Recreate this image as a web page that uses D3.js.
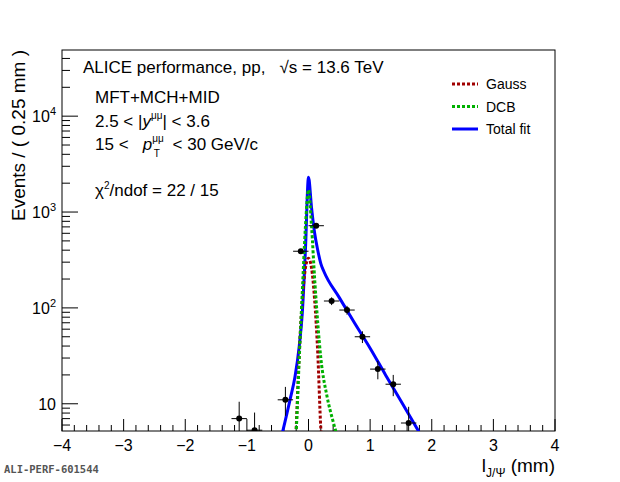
<!DOCTYPE html>
<html>
<head>
<meta charset="UTF-8">
<script src="https://d3js.org/d3.v7.min.js"></script>
<style>
body { margin: 0; background: #fff; font-family: "Liberation Sans", Arial, sans-serif; }
text { white-space: pre; }
</style>
</head>
<body>
<div id="chart"></div>
<script>
// data points (bin centre, counts), bin width 0.25 mm
const binX = [-1.125, -0.875, -0.375, -0.125, 0.125, 0.375, 0.625, 0.875, 1.125, 1.375, 1.625];
const binY = [7, 5.3, 11, 390, 720, 118, 95, 50, 23, 16, 6.3];
const errLo = [3, 2.5, 3.5, 20, 27, 11, 10, 7, 5, 4, 2.5];
const errHi = [3.5, 2.8, 4, 20, 27, 11, 10, 7, 5, 4, 3];

// fit curves
const gaussX = [-0.22, -0.2, -0.15, -0.1, -0.05, 0, 0.05, 0.1, 0.15, 0.2, 0.23];
const gaussY = [3, 5.5, 34, 120, 260, 330, 260, 120, 34, 5.5, 3];
const dcbX = [-0.22, -0.2, -0.15, -0.1, -0.05, 0, 0.05, 0.1, 0.15, 0.2, 0.3, 0.4, 0.47];
const dcbY = [3, 5, 30, 150, 700, 1700, 700, 200, 70, 30, 12, 6.5, 4.5];
const totX = [-0.44, -0.3, -0.22, -0.15, -0.1, -0.05, 0, 0.05, 0.1, 0.15, 0.2, 0.25, 0.5, 0.75, 1.0, 1.25, 1.5, 1.8];
const totY = [4.5, 11, 19, 40, 90, 400, 2300, 1100, 600, 400, 290, 240, 128, 69, 38, 20, 10.7, 5.0];

const W = 620, H = 482;
const m = {left: 62, right: 65, top: 50, bottom: 51};
const svg = d3.select("#chart").append("svg").attr("width", W).attr("height", H);

const x = d3.scaleLinear().domain([-4, 4]).range([m.left, W - m.right]);
const y = d3.scaleLog().domain([5.2, 49000]).range([H - m.bottom, m.top]);

svg.append("defs").append("clipPath").attr("id", "clip")
  .append("rect").attr("x", m.left).attr("y", m.top)
  .attr("width", W - m.left - m.right).attr("height", H - m.top - m.bottom);

// frame
svg.append("rect").attr("x", m.left).attr("y", m.top)
  .attr("width", W - m.left - m.right).attr("height", H - m.top - m.bottom)
  .attr("fill", "none").attr("stroke", "#000");

// x ticks
const xb = H - m.bottom;
for (let v = -4; v <= 4.001; v += 0.2) {
  const major = Math.abs(v - Math.round(v)) < 1e-6;
  svg.append("line").attr("x1", x(v)).attr("x2", x(v))
    .attr("y1", xb).attr("y2", xb - (major ? 12 : 6)).attr("stroke", "#000");
}
d3.range(-4, 5).forEach(v => {
  svg.append("text").attr("x", x(v)).attr("y", xb + 20).attr("text-anchor", "middle")
    .attr("font-size", 16).text(v < 0 ? "\u2212" + (-v) : String(v));
});

// y ticks
[0, 1, 2, 3, 4].forEach(p => {
  for (let k = 1; k <= 9; k++) {
    const v = k * Math.pow(10, p);
    if (v < 5.2 || v > 49000) continue;
    svg.append("line").attr("x1", m.left).attr("x2", m.left + (k === 1 ? 16 : 8))
      .attr("y1", y(v)).attr("y2", y(v)).attr("stroke", "#000");
  }
});

svg.append("text").attr("x", m.left - 6).attr("y", y(10) + 6).attr("text-anchor", "end")
  .attr("font-size", 16).text("10");
[2, 3, 4].forEach(p => {
  const t = svg.append("text").attr("x", m.left - 6).attr("y", y(Math.pow(10, p)) + 6)
    .attr("text-anchor", "end").attr("font-size", 16);
  t.append("tspan").text("10");
  t.append("tspan").attr("dy", -7).attr("font-size", 11).text(p);
});

// axis titles
svg.append("text").attr("transform", `translate(25,${m.top}) rotate(-90)`)
  .attr("text-anchor", "end").attr("font-size", 19).text("Events / ( 0.25 mm )");
const xt = svg.append("text").attr("x", W - m.right).attr("y", 472).attr("text-anchor", "end").attr("font-size", 19);
xt.append("tspan").text("l");
xt.append("tspan").attr("dy", 5).attr("font-size", 12).text("J/\u03A8");
xt.append("tspan").attr("dy", -5).text(" (mm)");

svg.append("text").attr("x", 4).attr("y", 473).attr("font-family", "DejaVu Sans Mono")
  .attr("font-weight", "bold").attr("font-size", 10.5).attr("fill", "#555").text("ALI-PERF-601544");

// curves
const g = svg.append("g").attr("clip-path", "url(#clip)");
const line = d3.line().x(d => x(d[0])).y(d => y(d[1])).curve(d3.curveMonotoneX);
g.append("path").datum(totX.map((v, i) => [v, totY[i]])).attr("d", line)
  .attr("fill", "none").attr("stroke", "#0000ff").attr("stroke-width", 3);
g.append("path").datum(gaussX.map((v, i) => [v, gaussY[i]])).attr("d", line)
  .attr("fill", "none").attr("stroke", "#a00000").attr("stroke-width", 3).attr("stroke-dasharray", "3,2");
g.append("path").datum(dcbX.map((v, i) => [v, dcbY[i]])).attr("d", line)
  .attr("fill", "none").attr("stroke", "#00b000").attr("stroke-width", 3).attr("stroke-dasharray", "3,2");

// data points
binX.forEach((bx, i) => {
  const cy = y(binY[i]);
  g.append("line").attr("x1", x(bx - 0.125)).attr("x2", x(bx + 0.125)).attr("y1", cy).attr("y2", cy).attr("stroke", "#000");
  g.append("line").attr("x1", x(bx)).attr("x2", x(bx)).attr("y1", y(binY[i] + errHi[i])).attr("y2", y(Math.max(binY[i] - errLo[i], 1))).attr("stroke", "#000");
  g.append("circle").attr("cx", x(bx)).attr("cy", cy).attr("r", 3).attr("fill", "#000");
});

// legend
const leg = [["Gauss", "#a00000", "3,2"], ["DCB", "#00b000", "3,2"], ["Total fit", "#0000ff", null]];
leg.forEach((d, i) => {
  const ly = 84 + i * 22.5;
  const l = svg.append("line").attr("x1", 452).attr("x2", 478).attr("y1", ly).attr("y2", ly)
    .attr("stroke", d[1]).attr("stroke-width", 3);
  if (d[2]) l.attr("stroke-dasharray", d[2]);
  svg.append("text").attr("x", 486).attr("y", ly + 5).attr("font-size", 14).text(d[0]);
});

// annotation text
svg.append("text").attr("x", 83).attr("y", 73).attr("font-size", 17)
  .text("ALICE performance, pp,   \u221As = 13.6 TeV");
svg.append("text").attr("x", 95).attr("y", 103).attr("font-size", 17).text("MFT+MCH+MID");
const t3 = svg.append("text").attr("x", 95).attr("y", 127).attr("font-size", 17);
t3.append("tspan").text("2.5 < |");
t3.append("tspan").attr("font-style", "italic").text("y");
t3.append("tspan").attr("dy", -8).attr("font-size", 10).text("\u03BC\u03BC");
t3.append("tspan").attr("dy", 8).text("| < 3.6");
const t4 = svg.append("text").attr("x", 95).attr("y", 150).attr("font-size", 17);
t4.append("tspan").text("15 <   ");
t4.append("tspan").attr("font-style", "italic").text("p");
t4.append("tspan").attr("dy", -8).attr("font-size", 10).text("\u03BC\u03BC");
t4.append("tspan").attr("dx", -10).attr("dy", 15).attr("font-size", 10).text("T");
t4.append("tspan").attr("dx", 8).attr("dy", -7).text(" < 30 GeV/c");
const t5 = svg.append("text").attr("x", 95).attr("y", 196).attr("font-size", 17);
t5.append("tspan").text("\u03C7");
t5.append("tspan").attr("dy", -7).attr("font-size", 10).text("2");
t5.append("tspan").attr("dy", 7).text("/ndof = 22 / 15");
</script>
</body>
</html>
